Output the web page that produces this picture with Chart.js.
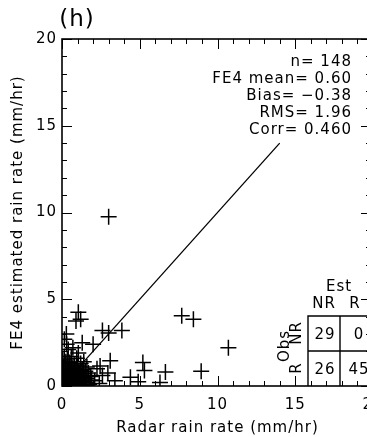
<!DOCTYPE html>
<html>
<head>
<meta charset="utf-8">
<script src="https://cdn.jsdelivr.net/npm/chart.js@4.4.1/dist/chart.umd.min.js"></script>
<style>
  html, body { margin: 0; padding: 0; background: #fff; overflow: hidden; }
  #wrap { width: 400px; height: 437px; }
</style>
</head>
<body>
<div id="wrap"><canvas id="chart" width="400" height="437"></canvas></div>
<script>
// radar (x) vs FE4 estimate (y), mm/hr
const radarRate = [
  3.0, 7.7, 8.45, 10.7, 8.95, 6.65, 6.3, 5.2, 5.3, 4.4,
  1.05, 1.2, 0.9, 2.6, 3.0, 3.85, 2.0, 3.1, 2.45, 2.25,
  2.95, 2.6, 1.7, 0.3, 0.4, 0.28, 0.6, 0.95, 1.05, 1.4,
  2.1, 2.4, 1.6, 3.4, 0.15, 0.7, 1.3, 4.9,
  0.05, 0.1, 0.15, 0.2, 0.25, 0.3, 0.35, 0.4, 0.45, 0.5,
  0.55, 0.6, 0.65, 0.7, 0.75, 0.8, 0.85, 0.9, 0.95, 1.0,
  1.05, 1.1, 1.15, 1.2, 1.3, 1.4, 1.5, 1.6, 1.75, 1.9,
  0.02, 0.05, 0.08, 0.1, 0.12, 0.15, 0.18, 0.2, 0.22, 0.25,
  0.3, 0.32, 0.35, 0.4, 0.42, 0.45, 0.5, 0.55, 0.6, 0.62,
  0.68, 0.72, 0.78, 0.82, 0.88, 0.92, 0.98, 1.02, 1.08, 1.12,
  1.18, 1.25, 1.35, 1.45, 1.55, 1.7, 1.85, 0.05, 0.15, 0.25,
  0.03, 0.07, 0.12, 0.17, 0.22, 0.28, 0.33, 0.38, 0.43, 0.48,
  0.53, 0.58, 0.63, 0.67, 0.73, 0.77, 0.83, 0.87, 0.93, 0.97,
  0.0, 0.02, 0.08, 0.13, 0.18, 0.23, 0.27, 0.37, 0.47, 0.52,
  0.57, 0.7, 0.8, 0.9, 1.0, 1.2, 1.3, 1.5, 0.35, 0.5
];
const fe4Rate = [
  9.75, 4.05, 3.85, 2.2, 0.85, 0.8, 0.2, 1.35, 0.9, 0.5,
  4.25, 3.85, 3.75, 3.2, 3.05, 3.2, 2.4, 1.45, 1.15, 1.0,
  0.75, 0.6, 0.6, 2.4, 2.1, 3.0, 1.7, 1.6, 1.9, 1.4,
  0.3, 0.15, 1.1, 0.3, 2.7, 2.2, 2.5, 0.25,
  0.02, 0.05, 0.0, 0.1, 0.03, 0.15, 0.05, 0.2, 0.0, 0.1,
  0.25, 0.05, 0.15, 0.3, 0.0, 0.1, 0.35, 0.05, 0.2, 0.0,
  0.15, 0.4, 0.05, 0.25, 0.1, 0.3, 0.05, 0.2, 0.1, 0.35,
  0.3, 0.5, 0.7, 0.9, 1.1, 0.4, 0.6, 0.8, 1.3, 0.5,
  0.7, 1.0, 0.35, 0.55, 0.85, 1.2, 0.45, 0.65, 0.9, 0.4,
  0.6, 0.75, 0.5, 0.95, 0.6, 0.45, 0.7, 0.55, 0.8, 0.6,
  0.9, 0.5, 0.7, 0.55, 0.45, 0.75, 0.55, 1.5, 1.7, 1.4,
  0.15, 0.25, 0.18, 0.08, 0.22, 0.3, 0.12, 0.4, 0.28, 0.18,
  0.35, 0.22, 0.5, 0.1, 0.42, 0.2, 0.25, 0.15, 0.3, 0.4,
  0.0, 0.05, 0.12, 0.3, 0.35, 0.45, 0.6, 0.75, 0.62, 0.8,
  1.0, 1.05, 1.2, 1.0, 1.15, 1.3, 0.95, 0.85, 1.55, 1.35
];
// 1:1 reference line
const oneToOne = [1, 14];

const statLines = ['n= 148', 'FE4 mean= 0.60', 'Bias= \u22120.38', 'RMS= 1.96', 'Corr= 0.460'];
const tableCols = ['NR', 'R'];
const tableRows = ['NR', 'R'];
const tableCounts = [[29, 0], [26, 45]];

const FONT = 'DejaVu Sans';

const extras = {
  id: 'extras',
  beforeDraw(chart) {
    // the original lettering is wide, so space it out a little
    chart.ctx.letterSpacing = '1px';
  },
  afterDraw(chart) {
    const c = chart.ctx;
    const a = chart.chartArea;
    const xs = chart.scales.x, ys = chart.scales.y;
    c.save();
    c.strokeStyle = '#000';
    c.fillStyle = '#000';

    // inward ticks on all four sides
    c.lineWidth = 1;
    for (let v = 0; v <= 20; v++) {
      const len = v % 5 === 0 ? 10 : 5;
      const px = Math.round(xs.getPixelForValue(v)) + 0.5;
      const py = Math.round(ys.getPixelForValue(v)) + 0.5;
      c.beginPath();
      c.moveTo(px, a.bottom); c.lineTo(px, a.bottom - len);
      c.moveTo(px, a.top); c.lineTo(px, a.top + len);
      c.moveTo(a.left, py); c.lineTo(a.left + len, py);
      c.moveTo(a.right, py); c.lineTo(a.right - len - 2, py);
      c.stroke();
    }
    // frame
    c.lineWidth = 1.6;
    c.strokeRect(a.left, a.top, a.right - a.left, a.bottom - a.top);

    // x tick labels (drawn here so the last one does not pull the plot edge in)
    c.font = '15px ' + FONT;
    c.textAlign = 'center';
    c.textBaseline = 'middle';
    xs.ticks.forEach(t => c.fillText(String(t.value), xs.getPixelForValue(t.value), a.bottom + 19));

    // panel label
    c.font = '23px ' + FONT;
    c.fillText('(h)', 77, 20);

    // stats block
    c.font = '15px ' + FONT;
    c.textAlign = 'right';
    statLines.forEach((s, i) => c.fillText(s, a.right - 21, a.top + 23 + i * 17));

    // contingency table
    const tl = a.right - 65, tm = a.right - 33, tt = a.bottom - 70, tmid = a.bottom - 35;
    c.lineWidth = 1.4;
    c.beginPath();
    c.moveTo(tl, a.bottom); c.lineTo(tl, tt); c.lineTo(a.right, tt);
    c.moveTo(tm, tt); c.lineTo(tm, a.bottom);
    c.moveTo(tl, tmid); c.lineTo(a.right, tmid);
    c.stroke();
    c.textAlign = 'center';
    c.fillText('Est', tm - 1, tt - 29);
    c.fillText(tableCols[0], tl + 16, tt - 12);
    c.fillText(tableCols[1], tm + 15, tt - 12);
    tableCounts.forEach((row, r) => row.forEach((n, k) => {
      c.fillText(String(n), (k === 0 ? tl + 17 : tm + 19), tt + 19 + r * 35);
    }));
    c.save();
    c.translate(tl - 23, tt + 30);
    c.rotate(-Math.PI / 2);
    c.fillText('Obs', 0, 0);
    c.restore();
    tableRows.forEach((lab, r) => {
      c.save();
      c.translate(tl - 11, tt + 17 + r * 35);
      c.rotate(-Math.PI / 2);
      c.fillText(lab, 0, 0);
      c.restore();
    });
    c.restore();
  }
};

new Chart(document.getElementById('chart'), {
  type: 'scatter',
  data: {
    datasets: [{
      data: radarRate.map((x, i) => ({ x: x, y: fe4Rate[i] })),
      pointStyle: 'cross',
      pointRadius: 8,
      pointBorderWidth: 1.5,
      borderColor: '#000',
      clip: 0
    }, {
      type: 'line',
      data: oneToOne.map(v => ({ x: v, y: v })),
      borderColor: '#000',
      borderWidth: 1.3,
      pointRadius: 0,
      clip: 0
    }]
  },
  options: {
    responsive: false,
    animation: false,
    // canvas is wider than the window: the right edge of the plot is cut off, as in the original
    layout: { padding: { top: 39, right: 27, left: 0, bottom: 0 } },
    plugins: { legend: { display: false }, tooltip: { enabled: false } },
    scales: {
      x: {
        type: 'linear', min: 0, max: 20,
        grid: { display: false, drawTicks: false },
        border: { display: false },
        ticks: { stepSize: 5, display: false },
        title: { display: true, text: 'Radar rain rate (mm/hr)', color: '#000',
                 font: { family: FONT, size: 15 }, padding: { top: 8, bottom: 0 } },
        afterFit(s) { s.height = 51; s.paddingLeft = 0; s.paddingRight = 0; }
      },
      y: {
        type: 'linear', min: 0, max: 20,
        grid: { display: false, drawTicks: false },
        border: { display: false },
        ticks: { stepSize: 5, padding: 5, color: '#000', font: { family: FONT, size: 15 } },
        title: { display: true, text: 'FE4 estimated rain rate (mm/hr)', color: '#000',
                 font: { family: FONT, size: 15 }, padding: { top: 9, bottom: 0 } },
        afterFit(s) { s.width = 62; s.paddingTop = 0; s.paddingBottom = 0; }
      }
    }
  },
  plugins: [extras]
});
</script>
</body>
</html>
